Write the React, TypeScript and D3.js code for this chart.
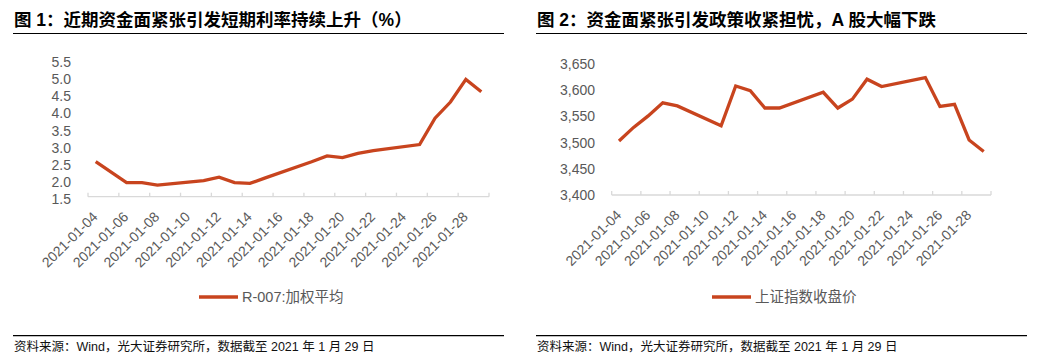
import * as d3 from "d3";

// trading days shown on both charts
const tradeDays = [
  "2021-01-04", "2021-01-05", "2021-01-06", "2021-01-07", "2021-01-08",
  "2021-01-11", "2021-01-12", "2021-01-13", "2021-01-14", "2021-01-15",
  "2021-01-18", "2021-01-19", "2021-01-20", "2021-01-21", "2021-01-22",
  "2021-01-25", "2021-01-26", "2021-01-27", "2021-01-28", "2021-01-29",
];

// R-007 weighted average (%)
const r007 = [
  2.52, 2.22, 1.91, 1.91, 1.84,
  1.97, 2.07, 1.91, 1.89, 2.05,
  2.52, 2.69, 2.64, 2.76, 2.84,
  3.02, 3.79, 4.26, 4.92, 4.56,
];

// Shanghai composite close
const shClose = [
  3503, 3529, 3551, 3576, 3570,
  3532, 3608, 3599, 3566, 3566,
  3596, 3566, 3583, 3621, 3607,
  3624, 3569, 3573, 3505, 3483,
];

const xTickLabels = [
  "2021-01-04", "2021-01-06", "2021-01-08", "2021-01-10", "2021-01-12",
  "2021-01-14", "2021-01-16", "2021-01-18", "2021-01-20", "2021-01-22",
  "2021-01-24", "2021-01-26", "2021-01-28",
];

const r007Ticks = [1.5, 2.0, 2.5, 3.0, 3.5, 4.0, 4.5, 5.0, 5.5];
const shTicks = [3400, 3450, 3500, 3550, 3600, 3650];

const LATIN = "'Liberation Sans', Arial, 'Noto Sans CJK SC', sans-serif";
const LINE_COLOR = "#C8441E";
const GREY = "#595959";

const parse = d3.utcParse("%Y-%m-%d");
const xStart = parse("2021-01-04") as Date;
const xEnd = parse("2021-01-30") as Date;

type PanelProps = {
  title: string;
  legend: string;
  values: number[];
  ticks: number[];
  fmt: (v: number) => string;
  x0: number;
  x1: number;
  yTop: number;
  yBottom: number;
  labelRight: number;
  labelDy: number;
  boxLeft: number;
  boxRight: number;
  legendX: number;
};

function Panel(p: PanelProps) {
  const x = d3.scaleUtc().domain([xStart, xEnd]).range([p.x0, p.x1]);
  const y = d3
    .scaleLinear()
    .domain([p.ticks[0], p.ticks[p.ticks.length - 1]])
    .range([p.yBottom, p.yTop]);

  // points sit in the middle of their day slot
  const line = d3
    .line<number>()
    .x((_, i) => x(d3.utcHour.offset(parse(tradeDays[i]) as Date, 12)))
    .y((d) => y(d));

  const axisY = y(p.ticks[0]);
  const tickDates = xTickLabels.map((s) => parse(s) as Date).concat([xEnd]);

  return (
    <g>
      <text
        x={p.boxLeft + 1}
        y={26}
        fontSize={17.5}
        fontWeight="bold"
        fontFamily={LATIN}
        fill="#000"
      >
        {p.title}
      </text>
      <line x1={p.boxLeft} x2={p.boxRight} y1={33.5} y2={33.5} stroke="#000" strokeWidth={1.2} />

      {p.ticks.map((t) => (
        <text
          key={t}
          x={p.labelRight}
          y={y(t) + p.labelDy}
          dy="0.35em"
          textAnchor="end"
          fontSize={14}
          fontFamily={LATIN}
          fill={GREY}
        >
          {p.fmt(t)}
        </text>
      ))}

      <line x1={p.x0} x2={p.x1} y1={axisY} y2={axisY} stroke="#d9d9d9" strokeWidth={1.3} />
      {tickDates.map((d, i) => (
        <line
          key={i}
          x1={x(d)}
          x2={x(d)}
          y1={axisY}
          y2={axisY - 4}
          stroke="#d9d9d9"
          strokeWidth={1.3}
        />
      ))}
      {xTickLabels.map((s) => (
        <text
          key={s}
          transform={`translate(${x(parse(s) as Date) + 10.5},${axisY + 21}) rotate(-45)`}
          textAnchor="end"
          fontSize={14}
          fontFamily={LATIN}
          fill={GREY}
        >
          {s}
        </text>
      ))}

      <path
        d={line(p.values) ?? ""}
        fill="none"
        stroke={LINE_COLOR}
        strokeWidth={3.3}
        strokeLinejoin="miter"
      />

      <line
        x1={p.legendX}
        x2={p.legendX + 39}
        y1={297}
        y2={297}
        stroke={LINE_COLOR}
        strokeWidth={3.5}
      />
      <text
        x={p.legendX + 43}
        y={297}
        dy="0.35em"
        fontSize={14.5}
        fontFamily={LATIN}
        fill={GREY}
      >
        {p.legend}
      </text>

      <line x1={p.boxLeft} x2={p.boxRight} y1={335.7} y2={335.7} stroke="#000" strokeWidth={1.2} />
      <text x={p.boxLeft + 1} y={350.5} fontSize={12.5} fontFamily={LATIN} fill="#111">
        资料来源：Wind，光大证券研究所，数据截至 2021 年 1 月 29 日
      </text>
    </g>
  );
}

export default function App() {
  return (
    <svg
      width={1037}
      height={362}
      style={{ position: "absolute", left: 0, top: 0, background: "#fff" }}
    >
      <Panel
        title="图 1：近期资金面紧张引发短期利率持续上升（%）"
        legend="R-007:加权平均"
        values={r007}
        ticks={r007Ticks}
        fmt={d3.format(".1f")}
        x0={88}
        x1={489}
        yTop={59.5}
        yBottom={196.7}
        labelRight={71}
        labelDy={2.5}
        boxLeft={13}
        boxRight={504}
        legendX={199}
      />
      <Panel
        title="图 2：资金面紧张引发政策收紧担忧，A 股大幅下跌"
        legend="上证指数收盘价"
        values={shClose}
        ticks={shTicks}
        fmt={d3.format(",")}
        x0={611.7}
        x1={991}
        yTop={64}
        yBottom={195}
        labelRight={595}
        labelDy={0}
        boxLeft={536}
        boxRight={1027}
        legendX={712}
      />
    </svg>
  );
}
